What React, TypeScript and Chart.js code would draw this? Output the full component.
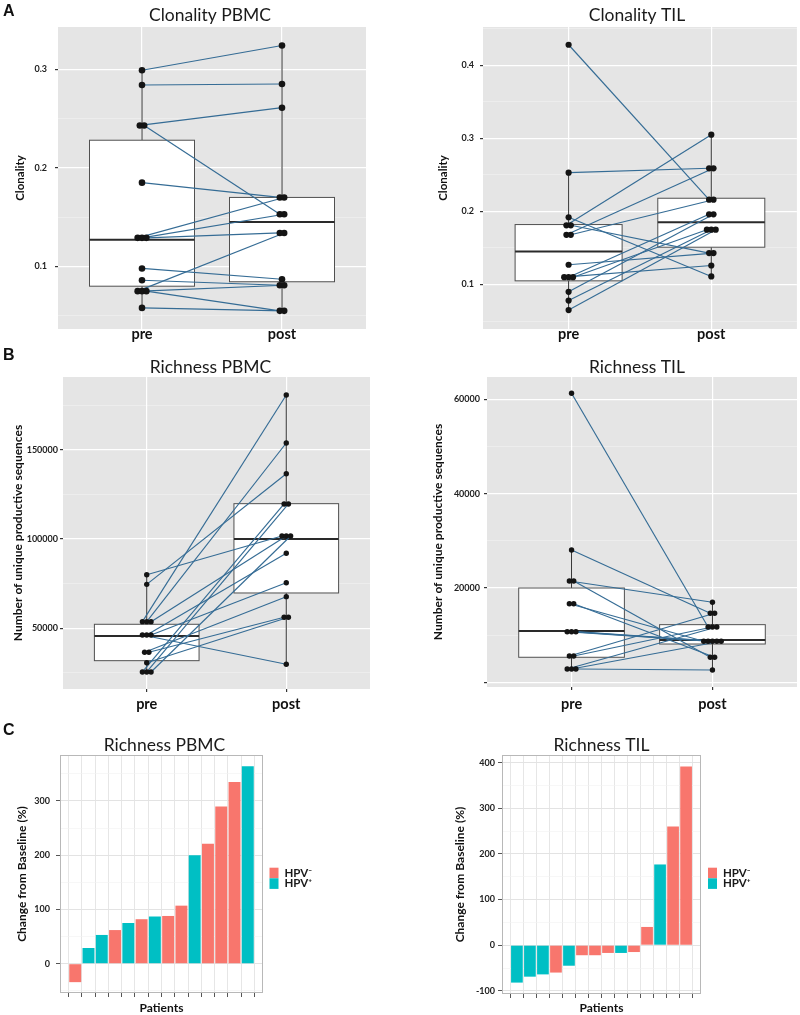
import React, { useEffect, useRef } from 'react';
import { Chart, registerables } from 'chart.js';

Chart.register(...registerables);

const FONT = "Lato, 'Liberation Sans', sans-serif";
const LETTER_FONT = "'Liberation Sans', Arial, sans-serif";
const LINE_BLUE = '#356C95';
const DOT = '#141414';
const RED = '#F8766D';
const TEAL = '#00BFC4';

// ---------------- data ----------------
const timepoints = ['pre', 'post'];

// A: clonality (pre -> post, paired by patient)
const clonPbmcPre = [0.299, 0.284, 0.243, 0.243, 0.185, 0.129, 0.129, 0.129, 0.098, 0.086, 0.075, 0.075, 0.075, 0.058];
const clonPbmcPost = [0.324, 0.285, 0.261, 0.153, 0.170, 0.170, 0.153, 0.134, 0.087, 0.081, 0.134, 0.081, 0.055, 0.055];
const clonPbmcBoxPre = [0.058, 0.080, 0.127, 0.228, 0.299]; // lo, q1, median, q3, hi
const clonPbmcBoxPost = [0.055, 0.0845, 0.145, 0.170, 0.324];
const clonPbmcTicks = [0.1, 0.2, 0.3];
const clonPbmcTickLabels = ['0.1', '0.2', '0.3'];

const clonTilPre = [0.428, 0.253, 0.192, 0.181, 0.181, 0.168, 0.168, 0.127, 0.110, 0.110, 0.110, 0.090, 0.078, 0.065];
const clonTilPost = [0.216, 0.259, 0.111, 0.305, 0.143, 0.259, 0.216, 0.143, 0.126, 0.196, 0.175, 0.196, 0.175, 0.175];
const clonTilBoxPre = [0.065, 0.105, 0.145, 0.182, 0.253];
const clonTilBoxPost = [0.111, 0.151, 0.185, 0.218, 0.305];
const clonTilTicks = [0.1, 0.2, 0.3, 0.4];
const clonTilTickLabels = ['0.1', '0.2', '0.3', '0.4'];

// B: richness
const richPbmcPre = [80000, 74600, 53700, 53700, 53700, 46250, 46250, 46250, 36560, 36560, 30740, 25530, 25530, 25530];
const richPbmcPost = [101680, 136560, 180600, 153750, 101680, 29840, 92000, 75530, 67700, 56160, 56160, 119600, 119600, 101680];
const richPbmcBoxPre = [25530, 31860, 45690, 52240, 80000];
const richPbmcBoxPost = [29840, 69770, 100000, 119770, 180600];
const richPbmcTicks = [50000, 100000, 150000];
const richPbmcTickLabels = ['50000', '100000', '150000'];

const richTilPre = [61260, 28050, 21480, 21480, 16670, 16670, 10740, 10740, 10740, 5590, 5590, 2840, 2840, 2840];
const richTilPost = [11740, 14640, 16970, 5320, 8710, 5320, 8710, 8710, 8710, 14640, 11740, 11740, 8710, 2620];
const richTilBoxPre = [2840, 5320, 10890, 20000, 28050];
const richTilBoxPost = [2620, 8130, 8980, 12230, 16970];
const richTilTicks = [0, 20000, 40000, 60000];
const richTilTickLabels = ['', '20000', '40000', '60000'];

// C: change from baseline (%), patients sorted
const hpvGroups = ['-', '+'];
const hpvLabels = ['HPV\u207B', 'HPV\u207A'];
const changePbmc = [-34, 29, 53, 62, 75, 82, 87, 88, 107, 200, 221, 290, 335, 364];
const hpvPbmc = ['-', '+', '+', '-', '+', '-', '+', '-', '-', '+', '-', '-', '-', '+'];
const changePbmcTicks = [0, 100, 200, 300];
const changePbmcTickLabels = ['0', '100', '200', '300'];

const changeTil = [-82, -69, -64, -60, -45, -22, -22, -17, -17, -15, 40, 177, 260, 392];
const hpvTil = ['+', '+', '+', '-', '+', '-', '-', '-', '+', '-', '-', '+', '-', '-'];
const changeTilTicks = [-100, 0, 100, 200, 300, 400];
const changeTilTickLabels = ['-100', '0', '100', '200', '300', '400'];

// ---------------- helpers ----------------
const DODGE = 0.031;
function dodge(vals: number[], step: number) {
  return vals.map((v, i) => {
    const group = vals.map((_, j) => j).filter((j) => vals[j] === v);
    const k = group.indexOf(i);
    return (k - (group.length - 1) / 2) * step;
  });
}

function tickHelpers(majors: number[], labels: string[], yMin: number, yMax: number) {
  const step = majors[1] - majors[0];
  const eps = step * 1e-6;
  const minors: number[] = [];
  for (let v = majors[0] - step / 2; v <= yMax; v += step) if (v >= yMin) minors.push(v);
  const all = [...majors, ...minors].sort((a, b) => a - b);
  const idx = (v: number) => majors.findIndex((m) => Math.abs(m - v) < eps);
  const isMajor = (c: any) => (c && c.tick ? idx(c.tick.value) >= 0 : true);
  const label = (v: number) => {
    const k = idx(v);
    return k < 0 ? '' : labels[k];
  };
  return { all, isMajor, label };
}

const decor = {
  id: 'decor',
  beforeDraw(chart: any, _a: any, o: any) {
    const { ctx, chartArea: a } = chart;
    if (o.bg) {
      ctx.save();
      ctx.fillStyle = o.bg;
      ctx.fillRect(a.left, a.top, a.right - a.left, a.bottom - a.top);
      ctx.restore();
    }
  },
  beforeDatasetsDraw(chart: any, _a: any, o: any) {
    if (!o.boxes) return;
    const { ctx, chartArea: a, scales } = chart;
    const x = scales.x;
    const y = scales.y;
    ctx.save();
    ctx.beginPath();
    ctx.rect(a.left, a.top, a.right - a.left, a.bottom - a.top);
    ctx.clip();
    o.boxes.forEach((b: number[], i: number) => {
      const cx = x.getPixelForValue(i + 1);
      const hw = x.getPixelForValue(i + 1 + 0.375) - cx;
      const [lo, q1, med, q3, hi] = b.map((v) => y.getPixelForValue(v));
      ctx.strokeStyle = '#333333';
      ctx.lineWidth = 1;
      ctx.beginPath();
      ctx.moveTo(cx, lo);
      ctx.lineTo(cx, q1);
      ctx.moveTo(cx, q3);
      ctx.lineTo(cx, hi);
      ctx.stroke();
      ctx.fillStyle = '#FFFFFF';
      ctx.fillRect(cx - hw, q3, 2 * hw, q1 - q3);
      ctx.strokeStyle = '#505050';
      ctx.strokeRect(cx - hw, q3, 2 * hw, q1 - q3);
      ctx.lineWidth = 2;
      ctx.strokeStyle = '#2a2a2a';
      ctx.beginPath();
      ctx.moveTo(cx - hw, med);
      ctx.lineTo(cx + hw, med);
      ctx.stroke();
    });
    ctx.restore();
  },
  afterDraw(chart: any, _a: any, o: any) {
    const { ctx, chartArea: a } = chart;
    ctx.save();
    if (o.frame) {
      ctx.strokeStyle = o.frame;
      ctx.lineWidth = 1;
      ctx.strokeRect(a.left + 0.5, a.top + 0.5, a.right - a.left - 1, a.bottom - a.top - 1);
    }
    if (o.title) {
      ctx.font = `17.5px ${FONT}`;
      ctx.fillStyle = '#1a1a1a';
      ctx.textAlign = 'center';
      ctx.textBaseline = 'alphabetic';
      ctx.fillText(o.title, (a.left + a.right) / 2 + (o.titleDx || 0), o.titleY);
    }
    if (o.letter) {
      ctx.font = `bold 16px ${LETTER_FONT}`;
      ctx.fillStyle = '#111111';
      ctx.textAlign = 'left';
      ctx.textBaseline = 'alphabetic';
      ctx.fillText(o.letter, 3, o.letterY);
    }
    if (o.legend) {
      chart.data.datasets.forEach((ds: any, i: number) => {
        const x0 = a.right + o.legend.dx;
        const y0 = o.legend.y + i * 10.6;
        ctx.fillStyle = ds.backgroundColor;
        ctx.fillRect(x0, y0, 9, 10.6);
        ctx.fillStyle = '#1a1a1a';
        ctx.font = `bold 11.5px ${FONT}`;
        ctx.textAlign = 'left';
        ctx.textBaseline = 'middle';
        ctx.fillText(ds.label, x0 + 15, y0 + 5.3);
      });
    }
    ctx.restore();
  },
};

function boxPanelConfig(p: any) {
  const offPre = dodge(p.pre, DODGE);
  const offPost = dodge(p.post, DODGE);
  const points = [
    ...p.pre.map((v: number, i: number) => ({ x: 1 + offPre[i], y: v })),
    ...p.post.map((v: number, i: number) => ({ x: 2 + offPost[i], y: v })),
  ];
  const lines = p.pre.map((v: number, i: number) => ({
    showLine: true,
    data: [
      { x: 1 + offPre[i], y: v },
      { x: 2 + offPost[i], y: p.post[i] },
    ],
    borderColor: LINE_BLUE,
    borderWidth: 1.15,
    pointRadius: 0,
    pointHoverRadius: 0,
    order: 1,
  }));
  const t = tickHelpers(p.yTicks, p.yTickLabels, p.yMin, p.yMax);
  return {
    type: 'scatter',
    data: {
      datasets: [
        {
          data: points,
          pointRadius: p.dotR,
          pointHoverRadius: p.dotR,
          pointBackgroundColor: DOT,
          pointBorderWidth: 0,
          order: 0,
        },
        ...lines,
      ],
    },
    plugins: [decor],
    options: {
      animation: false,
      responsive: false,
      devicePixelRatio: 1,
      events: [],
      layout: { padding: { top: p.padT, right: p.padR, bottom: 0, left: 0 } },
      plugins: {
        legend: { display: false },
        tooltip: { enabled: false },
        decor: {
          bg: '#E5E5E5',
          boxes: [p.boxPre, p.boxPost],
          title: p.title,
          titleY: p.titleY,
          titleDx: p.titleDx,
          letter: p.letter,
          letterY: p.letterY,
        },
      },
      scales: {
        x: {
          type: 'linear',
          min: 0.4,
          max: 2.6,
          afterBuildTicks: (s: any) => {
            s.ticks = [1, 2].map((v) => ({ value: v }));
          },
          afterFit: (s: any) => {
            s.height = p.xH;
          },
          ticks: {
            autoSkip: false,
            maxRotation: 0,
            padding: p.xTickPad,
            color: '#111111',
            font: { family: FONT, size: 14.5, weight: 'bold' },
            callback: (v: number) => timepoints[Math.round(v) - 1] ?? '',
          },
          grid: {
            color: '#FFFFFF',
            lineWidth: 1.2,
            drawTicks: p.xTickLen > 0,
            tickLength: p.xTickLen,
            tickColor: '#333333',
          },
          border: { display: false },
        },
        y: {
          type: 'linear',
          min: p.yMin,
          max: p.yMax,
          afterBuildTicks: (s: any) => {
            s.ticks = t.all.map((v) => ({ value: v }));
          },
          afterFit: (s: any) => {
            s.width = p.yW;
          },
          ticks: {
            autoSkip: false,
            padding: p.yTickPad,
            color: '#222222',
            font: { family: FONT, size: 9, weight: 'bold' },
            callback: (v: number) => t.label(v),
          },
          grid: {
            color: (c: any) => (t.isMajor(c) ? '#FFFFFF' : 'rgba(255,255,255,0.55)'),
            lineWidth: (c: any) => (t.isMajor(c) ? 1.2 : 0.6),
            tickColor: (c: any) => (t.isMajor(c) ? '#333333' : 'rgba(0,0,0,0)'),
            tickLength: 3,
          },
          border: { display: false },
          title: {
            display: true,
            text: p.yTitle,
            color: '#111111',
            font: { family: FONT, size: p.yTitleSize, weight: 'bold' },
            padding: { top: p.yTitlePad, bottom: 0 },
          },
        },
      },
    },
  };
}

function barPanelConfig(p: any) {
  const datasets = hpvGroups.map((g, gi) => ({
    type: 'bar',
    label: hpvLabels[gi],
    data: p.values
      .map((v: number, i: number) => ({ x: i + 1, y: v, g: p.hpv[i] }))
      .filter((d: any) => d.g === g)
      .map((d: any) => ({ x: d.x, y: d.y })),
    backgroundColor: gi === 0 ? RED : TEAL,
    borderWidth: 0,
    grouped: false,
    barPercentage: 0.9,
    categoryPercentage: 1,
  }));
  const t = tickHelpers(p.yTicks, p.yTickLabels, p.yMin, p.yMax);
  const n = p.values.length;
  return {
    type: 'bar',
    data: { datasets },
    plugins: [decor],
    options: {
      animation: false,
      responsive: false,
      devicePixelRatio: 1,
      events: [],
      layout: { padding: { top: p.padT, right: p.padR, bottom: 0, left: 0 } },
      plugins: {
        legend: { display: false },
        tooltip: { enabled: false },
        decor: {
          bg: '#FFFFFF',
          frame: '#B8B8B8',
          title: p.title,
          titleY: p.titleY,
          titleDx: p.titleDx,
          letter: p.letter,
          letterY: p.letterY,
          legend: { dx: p.legendDx, y: p.legendY },
        },
      },
      scales: {
        x: {
          type: 'linear',
          min: 0.4,
          max: n + 0.6,
          afterBuildTicks: (s: any) => {
            s.ticks = p.values.map((_: number, i: number) => ({ value: i + 1 }));
          },
          afterFit: (s: any) => {
            s.height = p.xH;
          },
          ticks: { autoSkip: false, maxRotation: 0, callback: () => '' },
          grid: { color: '#E6E6E6', lineWidth: 1, tickLength: 4, tickColor: '#555555' },
          border: { display: false },
          title: {
            display: true,
            text: 'Patients',
            color: '#111111',
            font: { family: FONT, size: 12, weight: 'bold' },
            padding: { top: 0, bottom: p.xTitlePad },
          },
        },
        y: {
          type: 'linear',
          min: p.yMin,
          max: p.yMax,
          afterBuildTicks: (s: any) => {
            s.ticks = t.all.map((v) => ({ value: v }));
          },
          afterFit: (s: any) => {
            s.width = p.yW;
          },
          ticks: {
            autoSkip: false,
            padding: p.yTickPad,
            color: '#222222',
            font: { family: FONT, size: 9, weight: 'bold' },
            callback: (v: number) => t.label(v),
          },
          grid: {
            color: (c: any) => (t.isMajor(c) ? '#E3E3E3' : '#F2F2F2'),
            lineWidth: (c: any) => (t.isMajor(c) ? 1 : 0.6),
            tickColor: (c: any) => (t.isMajor(c) ? '#555555' : 'rgba(0,0,0,0)'),
            tickLength: 4,
          },
          border: { display: false },
          title: {
            display: true,
            text: 'Change from Baseline (%)',
            color: '#111111',
            font: { family: FONT, size: 12, weight: 'bold' },
            padding: { top: p.yTitlePad, bottom: 0 },
          },
        },
      },
    },
  };
}

// ---------------- panels ----------------
const panels = [
  {
    key: 'a1', left: 0, top: 0, width: 400, height: 345,
    make: () =>
      boxPanelConfig({
        pre: clonPbmcPre, post: clonPbmcPost, boxPre: clonPbmcBoxPre, boxPost: clonPbmcBoxPost,
        yMin: 0.0366, yMax: 0.3428, yTicks: clonPbmcTicks, yTickLabels: clonPbmcTickLabels,
        yTitle: 'Clonality', yTitleSize: 11.5, yTitlePad: 13.1, yTickPad: 8,
        title: 'Clonality PBMC', titleY: 20.7, titleDx: -2, letter: 'A', letterY: 16,
        padT: 27, padR: 34, yW: 58, xH: 16, xTickLen: 0, xTickPad: -3.8, dotR: 3.3,
      }),
  },
  {
    key: 'a2', left: 400, top: 0, width: 400, height: 345,
    make: () =>
      boxPanelConfig({
        pre: clonTilPre, post: clonTilPost, boxPre: clonTilBoxPre, boxPost: clonTilBoxPost,
        yMin: 0.0391, yMax: 0.4523, yTicks: clonTilTicks, yTickLabels: clonTilTickLabels,
        yTitle: 'Clonality', yTitleSize: 11.5, yTitlePad: 36.1, yTickPad: 6,
        title: 'Clonality TIL', titleY: 20.7, titleDx: -3, letter: '', letterY: 0,
        padT: 27, padR: 3, yW: 83, xH: 16, xTickLen: 0, xTickPad: -3.8, dotR: 3.1,
      }),
  },
  {
    key: 'b1', left: 0, top: 340, width: 400, height: 380,
    make: () =>
      boxPanelConfig({
        pre: richPbmcPre, post: richPbmcPost, boxPre: richPbmcBoxPre, boxPost: richPbmcBoxPost,
        yMin: 16000, yMax: 190700, yTicks: richPbmcTicks, yTickLabels: richPbmcTickLabels,
        yTitle: 'Number of unique productive sequences', yTitleSize: 12, yTitlePad: 11.1, yTickPad: 2,
        title: 'Richness PBMC', titleY: 32.7, titleDx: -6, letter: 'B', letterY: 20,
        padT: 37, padR: 30, yW: 63, xH: 31, xTickLen: 3, xTickPad: 3.7, dotR: 2.7,
      }),
  },
  {
    key: 'b2', left: 400, top: 340, width: 400, height: 380,
    make: () =>
      boxPanelConfig({
        pre: richTilPre, post: richTilPost, boxPre: richTilBoxPre, boxPost: richTilBoxPost,
        yMin: -980, yMax: 64710, yTicks: richTilTicks, yTickLabels: richTilTickLabels,
        yTitle: 'Number of unique productive sequences', yTitleSize: 12, yTitlePad: 30.8, yTickPad: 4,
        title: 'Richness TIL', titleY: 32.7, titleDx: -5, letter: '', letterY: 0,
        padT: 37, padR: 3, yW: 87, xH: 33, xTickLen: 3, xTickPad: 5.7, dotR: 2.7,
      }),
  },
  {
    key: 'c1', left: 0, top: 715, width: 400, height: 300,
    make: () =>
      barPanelConfig({
        values: changePbmc, hpv: hpvPbmc,
        yMin: -54, yMax: 384.7, yTicks: changePbmcTicks, yTickLabels: changePbmcTickLabels,
        yTitlePad: 14.5, yTickPad: 6, xTitlePad: 0,
        title: 'Richness PBMC', titleY: 36, titleDx: 3, letter: 'C', letterY: 20,
        padT: 40, padR: 137, yW: 60, xH: 22, legendDx: 6.5, legendY: 152.7,
      }),
  },
  {
    key: 'c2', left: 400, top: 715, width: 400, height: 300,
    make: () =>
      barPanelConfig({
        values: changeTil, hpv: hpvTil,
        yMin: -107, yMax: 417, yTicks: changeTilTicks, yTickLabels: changeTilTickLabels,
        yTitlePad: 52.8, yTickPad: 3, xTitlePad: 0,
        title: 'Richness TIL', titleY: 36, titleDx: 0, letter: '', letterY: 0,
        padT: 40, padR: 99, yW: 102, xH: 21, legendDx: 7, legendY: 152.7,
      }),
  },
];

function ChartBox({ left, top, width, height, make }: any) {
  const ref = useRef<HTMLCanvasElement>(null);
  useEffect(() => {
    const chart = new Chart(ref.current as HTMLCanvasElement, make());
    return () => chart.destroy();
  }, [make]);
  return (
    <div style={{ position: 'absolute', left, top, width, height }}>
      <canvas ref={ref} width={width} height={height} style={{ display: 'block', width, height }} />
    </div>
  );
}

export default function App() {
  return (
    <div style={{ position: 'absolute', left: 0, top: 0, width: 800, height: 1015, background: '#FFFFFF', overflow: 'hidden' }}>
      {panels.map((p) => (
        <ChartBox key={p.key} left={p.left} top={p.top} width={p.width} height={p.height} make={p.make} />
      ))}
    </div>
  );
}
